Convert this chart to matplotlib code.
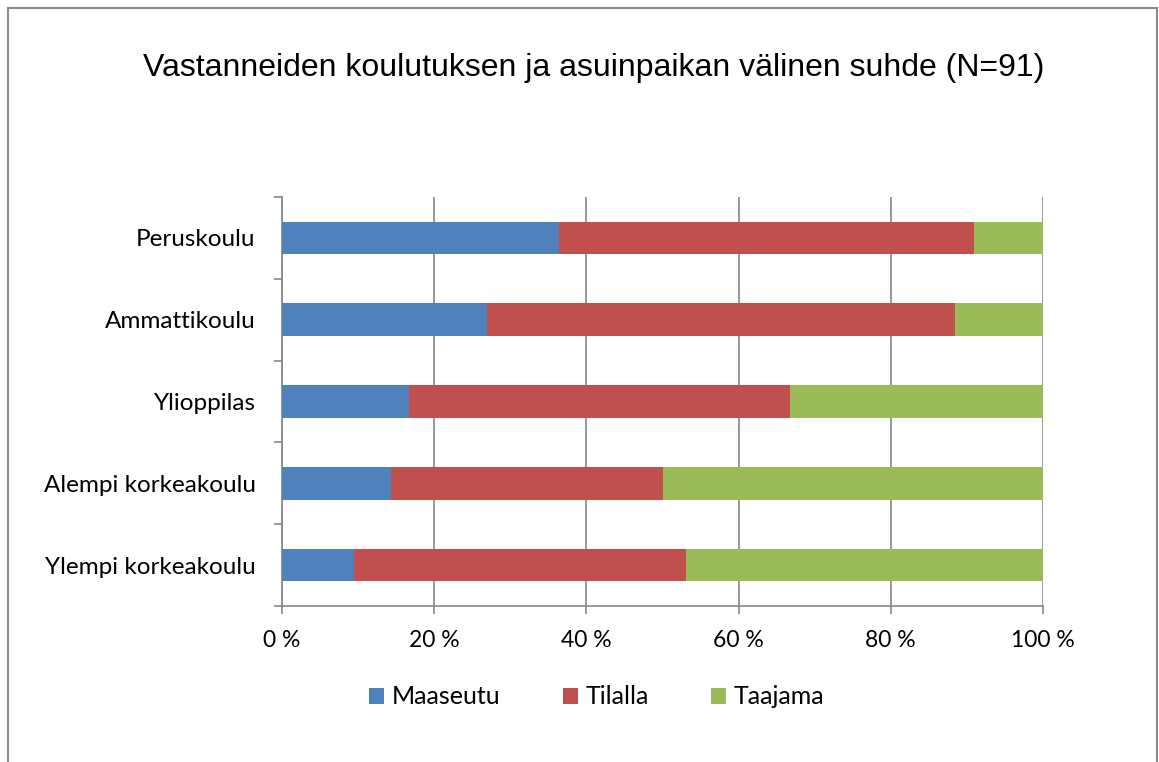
import matplotlib.pyplot as plt
import numpy as np
from matplotlib.patches import Rectangle

# Education groups, drawn top to bottom
categories = ["Peruskoulu", "Ammattikoulu", "Ylioppilas",
              "Alempi korkeakoulu", "Ylempi korkeakoulu"]
# share of respondents per place of residence (%)
maaseutu = [36.4, 26.9, 16.7, 14.3, 9.4]
tilalla = [54.5, 61.5, 50.0, 35.7, 43.7]
taajama = [9.1, 11.6, 33.3, 50.0, 46.9]
series_names = ["Maaseutu", "Tilalla", "Taajama"]
series_colors = ["#4F81BD", "#C0504D", "#9BBB59"]
x_ticks = [0, 20, 40, 60, 80, 100]
x_tick_labels = [f"{t} %" for t in x_ticks]

W, H = 1159, 762
fig = plt.figure(figsize=(W / 100, H / 100), dpi=100)

# outer chart frame (bottom edge falls outside the picture)
fig.patches.append(Rectangle((8 / W, -0.05), 1149 / W, 1.05 - 8 / H,
                             transform=fig.transFigure, fill=False,
                             edgecolor="#8C8C8C", linewidth=1.5))

ax = fig.add_axes([282 / W, 1 - 606 / H, 761 / W, 409 / H])

y = np.arange(len(categories))[::-1]
left = np.zeros(len(categories))
for name, vals, col in zip(series_names, [maaseutu, tilalla, taajama], series_colors):
    vals = np.array(vals)
    ax.barh(y, vals, left=left, height=0.4, color=col, label=name, zorder=3)
    left += vals

ax.set_xlim(0, 100)
ax.set_ylim(-0.5, len(categories) - 0.5)
ax.set_xticks(x_ticks)
ax.set_xticklabels(x_tick_labels)
ax.set_yticks(y)
ax.set_yticklabels(categories)
ax.set_yticks(np.arange(-0.5, len(categories)), minor=True)

label_font = "Lato"
for lab in ax.get_xticklabels():
    lab.set_fontfamily(label_font)
    lab.set_fontsize(16.5)
for lab in ax.get_yticklabels():
    lab.set_fontfamily(label_font)
    lab.set_fontsize(17.5)

ax.tick_params(axis="y", which="major", length=0, pad=19)
ax.tick_params(axis="y", which="minor", length=6, color="#868686", width=1.2)
ax.tick_params(axis="x", length=6, color="#868686", width=1.2, pad=11)

ax.grid(axis="x", color="#868686", linewidth=1.2, zorder=0)
for s in ["top", "right"]:
    ax.spines[s].set_visible(False)
for s in ["left", "bottom"]:
    ax.spines[s].set_color("#868686")
    ax.spines[s].set_linewidth(1.2)

fig.text(594 / W, 1 - 68 / H,
         "Vastanneiden koulutuksen ja asuinpaikan välinen suhde (N=91)",
         ha="center", va="center", fontsize=23, family="Liberation Sans")

ax.legend(loc="center", bbox_to_anchor=(597 / W, 1 - 697 / H),
          bbox_transform=fig.transFigure, ncol=3, frameon=False,
          prop={"family": label_font, "size": 18},
          handlelength=0.6, handleheight=0.6, handletextpad=0.3,
          columnspacing=2.5)

fig.savefig("out.png", dpi=100)
